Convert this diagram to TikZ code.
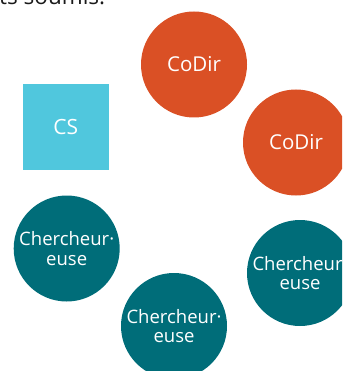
\documentclass[tikz,border=0pt]{standalone}
\usepackage{fontspec}
\setmainfont{Open Sans}
\definecolor{codir}{HTML}{DA5025}
\definecolor{cherch}{HTML}{006D79}
\definecolor{csblue}{HTML}{50C7DD}
\definecolor{txt}{HTML}{1A1A1A}
\tikzset{
  rond/.style={circle, inner sep=0pt, minimum size=106pt, text=white, align=center,
    font=\fontsize{18.5}{19.5}\selectfont},
  codirnode/.style={rond, fill=codir, font=\fontsize{20.5}{22}\selectfont},
  chnode/.style={rond, fill=cherch},
  csnode/.style={rectangle, inner sep=0pt, minimum size=85.5pt, fill=csblue, text=white,
    font=\fontsize{21}{22}\selectfont},
}
\begin{document}
\begin{tikzpicture}[x=1pt,y=-1pt]
\useasboundingbox (0,0) rectangle (342,371);
\clip (0,0) rectangle (342,371);
\node[anchor=base west, text=txt, inner sep=0pt, font=\fontsize{22.5}{26}\selectfont] (top) at (-1,4.5) {ts soumis.};
\node[codirnode] (c1) at (194,64.5) {CoDir};
\node[codirnode] (c2) at (296,142.5) {CoDir};
\node[csnode] (cs) at (65.8,127) {CS};
\node[chnode] (r1) at (66.7,248.5) {Chercheur·\\euse};
\node[chnode] (r2) at (174,326) {Chercheur·\\euse};
\node[chnode] (r3) at (300,273) {Chercheur·\\euse};
\end{tikzpicture}
\end{document}
